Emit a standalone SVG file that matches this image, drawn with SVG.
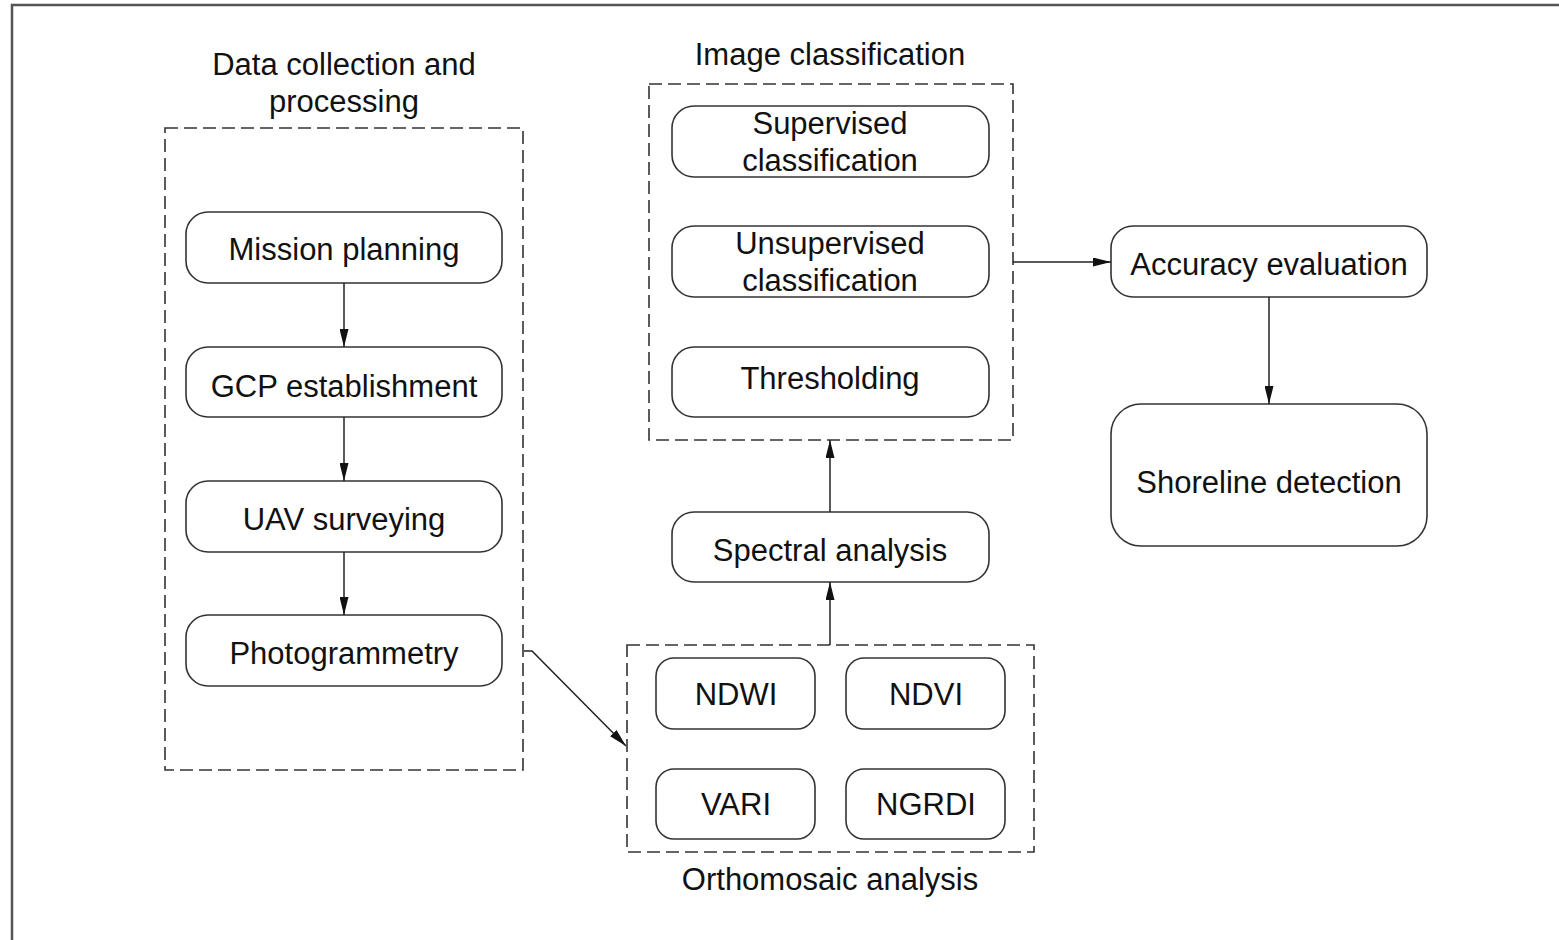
<svg xmlns="http://www.w3.org/2000/svg" width="1559" height="940" viewBox="0 0 1559 940">
<style>
.frame{fill:none;stroke:#555;stroke-width:2.5}
.grp{fill:none;stroke:#333;stroke-width:1.6;stroke-dasharray:13 6}
.node{fill:#fff;stroke:#333;stroke-width:1.6}
.t{font-family:"Liberation Sans",Arial,sans-serif;font-size:31px;fill:#111;text-anchor:middle}
.c{fill:none;stroke:#222;stroke-width:1.5}
</style>
<defs>
<marker id="ah" viewBox="0 0 18 9" refX="18" refY="4.5" markerWidth="18" markerHeight="9" markerUnits="userSpaceOnUse" orient="auto">
<path d="M0,0 L18,4.5 L0,9 Z" fill="#111"/>
</marker>
</defs>
<rect x="0" y="0" width="1559" height="940" fill="#fff"/>
<rect class="frame" x="12" y="5" width="1560" height="950"/>

<g id="group-data">
<rect class="grp" x="165" y="128" width="358" height="642"/>
<text class="t" x="344" y="75">Data collection and</text>
<text class="t" x="344" y="112">processing</text>
</g>
<g id="group-image">
<rect class="grp" x="649" y="84" width="364" height="356"/>
<text class="t" x="830" y="65">Image classification</text>
</g>
<g id="group-ortho">
<rect class="grp" x="627" y="645" width="407" height="207"/>
<text class="t" x="830" y="890">Orthomosaic analysis</text>
</g>

<g id="mission"><rect class="node" x="186" y="212" width="316" height="71" rx="22"/><text class="t" x="344" y="260">Mission planning</text></g>
<g id="gcp"><rect class="node" x="186" y="347" width="316" height="70" rx="22"/><text class="t" x="344" y="397">GCP establishment</text></g>
<g id="uav"><rect class="node" x="186" y="481" width="316" height="71" rx="22"/><text class="t" x="344" y="530">UAV surveying</text></g>
<g id="photo"><rect class="node" x="186" y="615" width="316" height="71" rx="22"/><text class="t" x="344" y="664">Photogrammetry</text></g>

<g id="supervised"><rect class="node" x="672" y="106" width="317" height="71" rx="22"/><text class="t" x="830" y="134">Supervised</text><text class="t" x="830" y="171">classification</text></g>
<g id="unsupervised"><rect class="node" x="672" y="226" width="317" height="71" rx="22"/><text class="t" x="830" y="254">Unsupervised</text><text class="t" x="830" y="291">classification</text></g>
<g id="thresholding"><rect class="node" x="672" y="347" width="317" height="70" rx="22"/><text class="t" x="830" y="389">Thresholding</text></g>
<g id="spectral"><rect class="node" x="672" y="512" width="317" height="70" rx="22"/><text class="t" x="830" y="561">Spectral analysis</text></g>

<g id="ndwi"><rect class="node" x="656" y="658" width="159" height="71" rx="18"/><text class="t" x="736" y="705">NDWI</text></g>
<g id="ndvi"><rect class="node" x="846" y="658" width="159" height="71" rx="18"/><text class="t" x="926" y="705">NDVI</text></g>
<g id="vari"><rect class="node" x="656" y="769" width="159" height="70" rx="18"/><text class="t" x="736" y="815">VARI</text></g>
<g id="ngrdi"><rect class="node" x="846" y="769" width="159" height="70" rx="18"/><text class="t" x="926" y="815">NGRDI</text></g>

<g id="accuracy"><rect class="node" x="1111" y="226" width="316" height="71" rx="22"/><text class="t" x="1269" y="275">Accuracy evaluation</text></g>
<g id="shoreline"><rect class="node" x="1111" y="404" width="316" height="142" rx="30"/><text class="t" x="1269" y="493">Shoreline detection</text></g>

<g id="connectors">
<path class="c" d="M344,283 V347" marker-end="url(#ah)"/>
<path class="c" d="M344,417 V481" marker-end="url(#ah)"/>
<path class="c" d="M344,552 V615" marker-end="url(#ah)"/>
<path class="c" d="M524,651 H532 L626,746" marker-end="url(#ah)"/>
<path class="c" d="M830,645 V582" marker-end="url(#ah)"/>
<path class="c" d="M830,512 V440" marker-end="url(#ah)"/>
<path class="c" d="M1013,262 H1111" marker-end="url(#ah)"/>
<path class="c" d="M1269,297 V404" marker-end="url(#ah)"/>
</g>
</svg>
